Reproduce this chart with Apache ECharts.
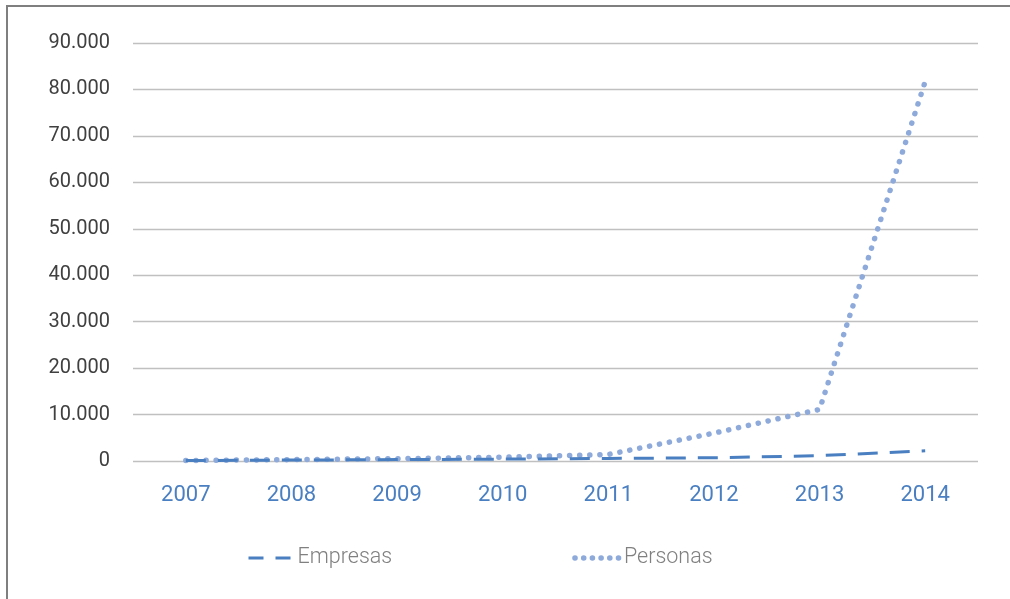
<!DOCTYPE html>
<html><head><meta charset="utf-8">
<script src="https://cdn.jsdelivr.net/npm/echarts@6/dist/echarts.min.js"></script>
<style>
html,body{margin:0;padding:0;background:#fff;}
#frame{position:absolute;left:6px;top:5px;width:1010px;height:600px;border-top:2px solid #7f7f7f;border-left:2px solid #7f7f7f;box-sizing:border-box;}
#c{position:absolute;left:0;top:0;width:1010px;height:599px;}
</style></head>
<body>
<div id="frame"></div>
<div id="c"></div>
<script>
const years = ['2007','2008','2009','2010','2011','2012','2013','2014'];
const empresas = [100, 200, 300, 400, 550, 700, 1150, 2200];
const personas = [100, 300, 500, 800, 1400, 6000, 11100, 81700];
const yTicks = {min: 0, max: 90000, interval: 10000};

const chart = echarts.init(document.getElementById('c'), null, {renderer: 'canvas'});
chart.setOption({
  animation: false,
  grid: {left: 133, right: 32, top: 43, bottom: 138},
  legend: {
    top: 542, left: 242, itemGap: 180, itemWidth: 44, itemHeight: 12, itemTextGap: 18,
    itemStyle: {opacity: 0},
    textStyle: {color: '#808080', fontSize: 21.5, fontFamily: 'Roboto', fontWeight: 300},
    data: [
      {name: 'Empresas', lineStyle: {type: [15, 12], width: 3}},
      {name: 'Personas', lineStyle: {type: [0.1, 8.6], width: 5.5, cap: 'round'}}
    ]
  },
  xAxis: {
    type: 'category', data: years, boundaryGap: true,
    axisLine: {show: false}, axisTick: {show: false},
    axisLabel: {color: '#4a7fc1', fontSize: 22, fontFamily: 'Roboto', margin: 23}
  },
  yAxis: {
    type: 'value', min: yTicks.min, max: yTicks.max, interval: yTicks.interval,
    axisLine: {show: false}, axisTick: {show: false},
    splitLine: {lineStyle: {color: '#c0c0c0', width: 1.3}},
    axisLabel: {color: '#404040', fontSize: 20, fontFamily: 'Roboto', margin: 23,
      formatter: v => v === 0 ? '0' : (v/1000).toFixed(0) + '.000'}
  },
  series: [
    {name: 'Empresas', type: 'line', data: empresas, symbol: 'none',
     lineStyle: {color: '#4a7fc1', width: 3, type: [20, 12]},
     itemStyle: {color: '#4a7fc1'}, z: 3},
    {name: 'Personas', type: 'line', data: personas, symbol: 'none',
     lineStyle: {color: '#8eaadb', width: 5.5, type: [0.1, 10], cap: 'round'},
     itemStyle: {color: '#8eaadb'}, z: 2}
  ]
});
</script>
</body></html>
